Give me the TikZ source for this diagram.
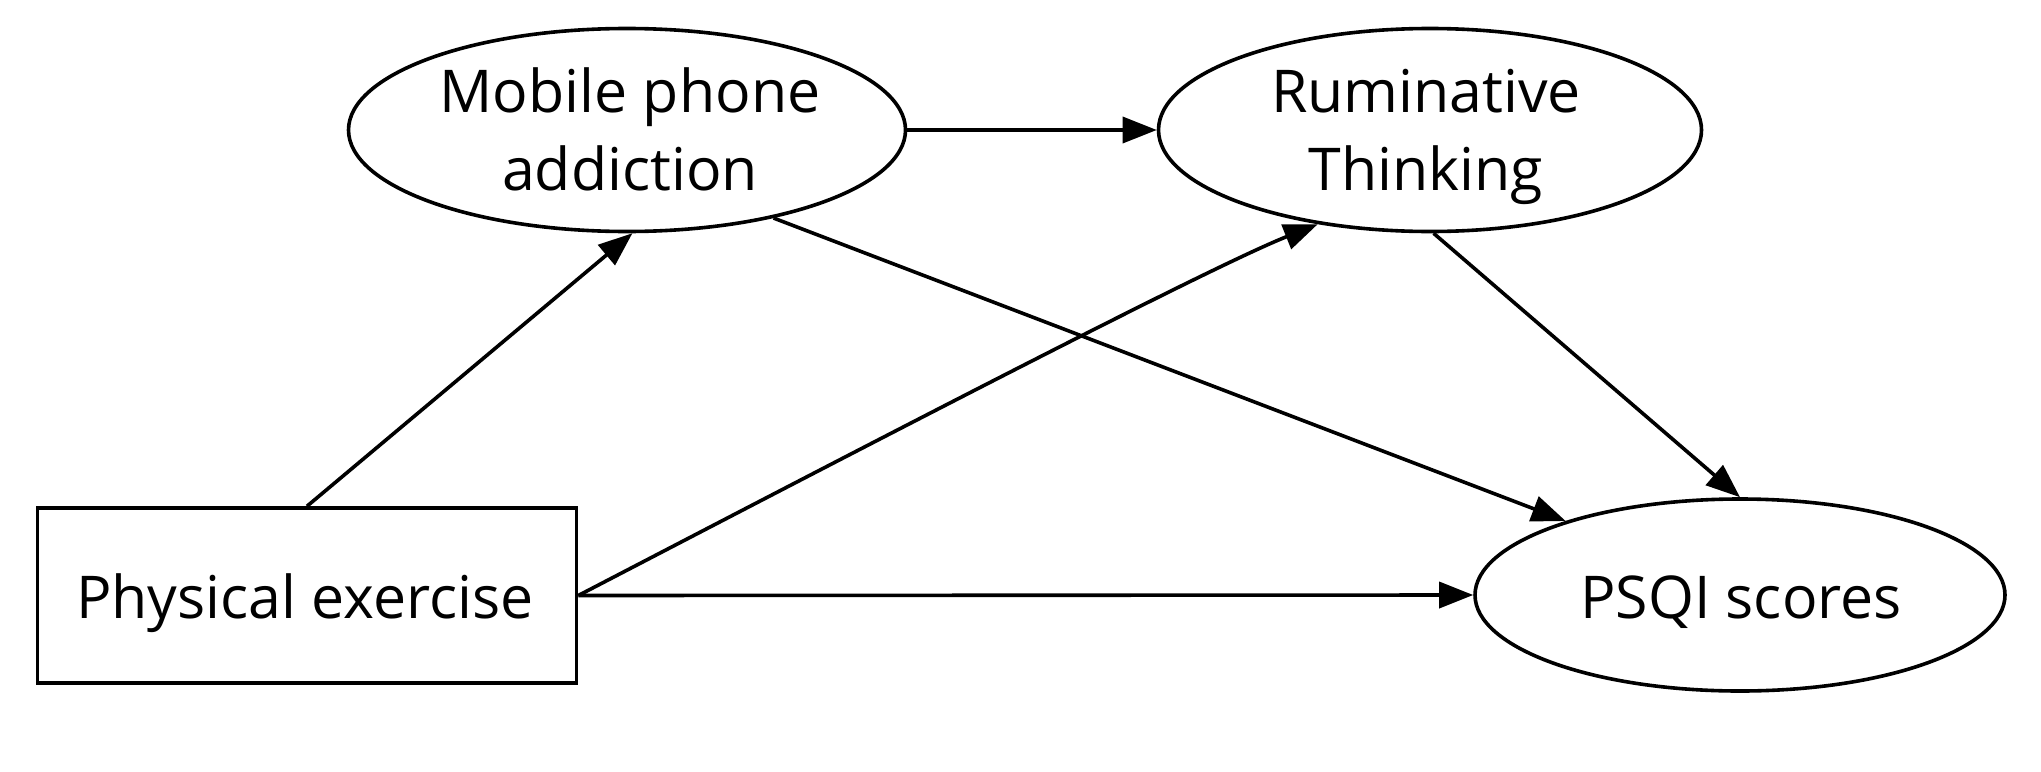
\documentclass[tikz,border=0pt]{standalone}
\usepackage{fontspec}
\setmainfont{Open Sans}
\usetikzlibrary{shapes.geometric,arrows.meta}
\begin{document}
\begin{tikzpicture}[x=1pt,y=-1pt,
  line width=3.6pt,
  ell/.style={draw,ellipse,inner sep=0pt,minimum width=#1,minimum height=192pt},
  box/.style={draw,rectangle,inner sep=0pt,minimum width=539pt,minimum height=175pt},
  lbl/.style={font=\fontsize{59}{78}\selectfont,align=center,anchor=base,inner sep=0pt},
  arr/.style={-{Triangle[length=34pt,width=26pt]}}]
\useasboundingbox[fill=white] (0,0) rectangle (2041,771);
\node[ell=557pt,minimum height=203pt] (mpa) at (627,130) {};
\node[ell=543pt,minimum height=203pt] (rt) at (1430,130) {};
\node[ell=530pt] (psqi) at (1740,595) {};
\node[box] (pe) at (307,595.5) {};
\node[lbl] (mpat) at (630,190) {Mobile phone\\addiction};
\node[lbl] (rtt) at (1426,190) {Ruminative\\Thinking};
\node[lbl] (psqit) at (1741,618) {PSQI scores};
\node[lbl] (pet) at (305,618) {Physical exercise};
\draw[arr] (pe.north) -- (mpa.-87);
\draw[arr] (mpa.east) -- (rt.west);
\draw[arr] (pe.east) -- (psqi.west);
\draw[arr] (mpa.-31) -- (psqi.157);
\draw[arr] (rt.-88) -- (psqi.north);
\draw[arr] (pe.east) .. controls +(300,-156) and +(-110,44) .. (rt.220);
\end{tikzpicture}
\end{document}
